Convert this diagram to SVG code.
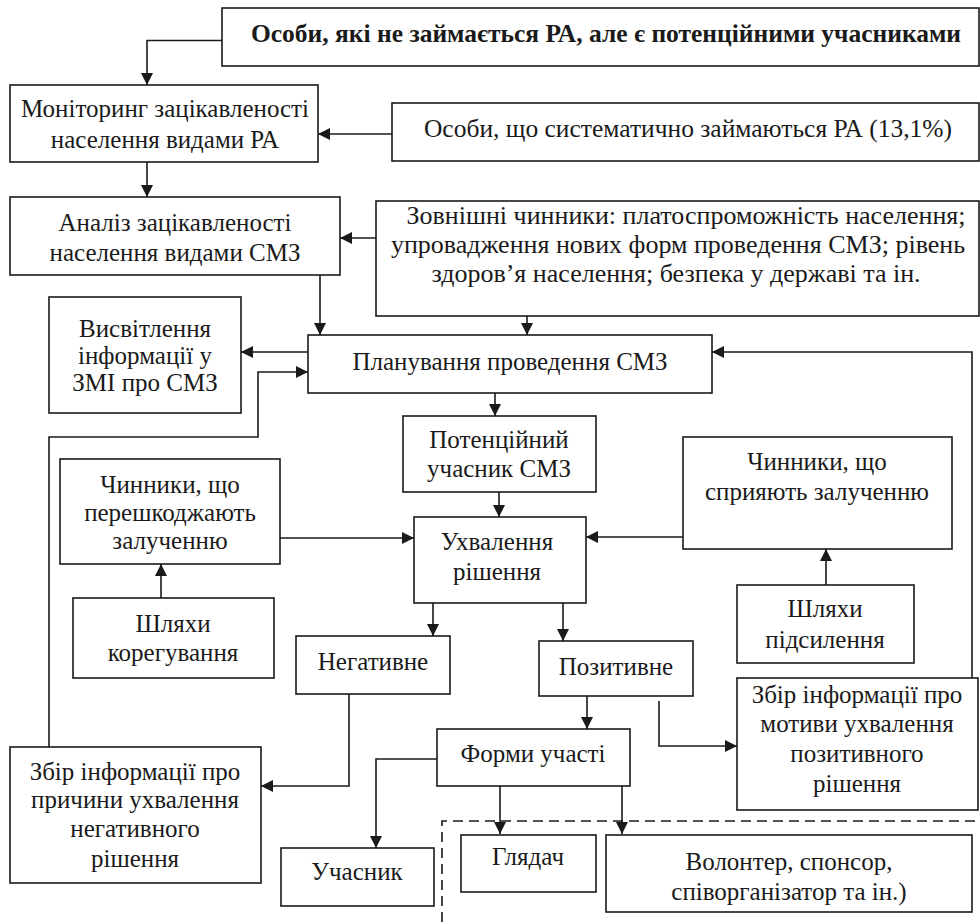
<svg xmlns="http://www.w3.org/2000/svg" width="980" height="922" viewBox="0 0 980 922">
<defs>
<marker id="ah" viewBox="0 0 12 12" refX="12" refY="6" markerWidth="12" markerHeight="12" markerUnits="userSpaceOnUse" orient="auto">
<path d="M0,0 L12,6 L0,12 z" fill="#1a1a1a"/>
</marker>
</defs>
<style>
.b{fill:#fff;stroke:#1a1a1a;stroke-width:1.6}
.c{fill:none;stroke:#1a1a1a;stroke-width:1.6;marker-end:url(#ah)}
.d{fill:none;stroke:#1a1a1a;stroke-width:1.6;stroke-dasharray:10,6}
text{font-family:'Liberation Serif','Times New Roman',serif;font-size:25px;fill:#1a1a1a;text-anchor:middle}
.big{font-size:25.5px}
.ext{font-size:26px}
.bold{font-weight:bold}
</style>
<rect width="980" height="922" fill="#fff"/>
<g id="connectors">
<path class="c" d="M222,40.5 H147 V85"/>
<path class="c" d="M392,134 H318"/>
<path class="c" d="M147,162 V197"/>
<path class="c" d="M376,238 H340"/>
<path class="c" d="M320,275 V335"/>
<path class="c" d="M527,316 V335"/>
<path class="c" d="M308,352 H241"/>
<path class="c" d="M49,747 V437 H258 V372 H308"/>
<path class="c" d="M972,678 V352 H712"/>
<path class="c" d="M495,393 V416"/>
<path class="c" d="M499,492 V517"/>
<path class="c" d="M280,538 H414"/>
<path class="c" d="M161,598 V564"/>
<path class="c" d="M683,537 H586"/>
<path class="c" d="M826,585 V549"/>
<path class="c" d="M433,603 V636"/>
<path class="c" d="M563,603 V641"/>
<path class="c" d="M349,694 V786 H261"/>
<path class="c" d="M587,696 V729"/>
<path class="c" d="M659,701 V746 H737"/>
<path class="c" d="M437,759 H376 V848"/>
<path class="c" d="M500,786 V834"/>
<path class="c" d="M622,786 V834"/>
<path class="d" d="M442,922 V821 H980"/>
</g>
<g id="n1"><rect class="b" x="222" y="8" width="757" height="58"/><text class="big bold" x="606" y="42">Особи, які не займається РА, але є потенційними учасниками</text></g>
<g id="n2"><rect class="b" x="10" y="85" width="308" height="77"/><text x="165" y="117">Моніторинг зацікавленості</text><text x="165" y="148">населення видами РА</text></g>
<g id="n3"><rect class="b" x="392" y="103" width="587" height="58"/><text class="big" x="688" y="137">Особи, що систематично займаються РА (13,1%)</text></g>
<g id="n4"><rect class="b" x="10" y="197" width="330" height="78"/><text x="175" y="231">Аналіз зацікавленості</text><text x="175" y="261">населення видами СМЗ</text></g>
<g id="n5"><rect class="b" x="376" y="201" width="603" height="115"/><text class="ext" x="686" y="224">Зовнішні чинники: платоспроможність населення;</text><text class="ext" x="678" y="253">упровадження нових форм проведення СМЗ; рівень</text><text class="ext" x="676" y="282">здоров’я населення; безпека у державі та ін.</text></g>
<g id="n6"><rect class="b" x="49" y="297" width="192" height="116"/><text x="145" y="337">Висвітлення</text><text x="145" y="364">інформації у</text><text x="145" y="391">ЗМІ про СМЗ</text></g>
<g id="n7"><rect class="b" x="308" y="335" width="404" height="58"/><text x="510" y="370">Планування проведення СМЗ</text></g>
<g id="n8"><rect class="b" x="403" y="416" width="193" height="76"/><text x="499" y="448">Потенційний</text><text x="499" y="477">учасник СМЗ</text></g>
<g id="n9"><rect class="b" x="60" y="459" width="220" height="105"/><text x="170" y="493">Чинники, що</text><text x="170" y="521">перешкоджають</text><text x="170" y="549">залученню</text></g>
<g id="n10"><rect class="b" x="683" y="437" width="269" height="112"/><text x="817" y="470">Чинники, що</text><text x="817" y="500">сприяють залученню</text></g>
<g id="n11"><rect class="b" x="414" y="517" width="172" height="86"/><text x="497" y="550">Ухвалення</text><text x="497" y="580">рішення</text></g>
<g id="n12"><rect class="b" x="73" y="598" width="201" height="80"/><text x="173" y="632">Шляхи</text><text x="173" y="661">корегування</text></g>
<g id="n13"><rect class="b" x="737" y="585" width="177" height="78"/><text x="825" y="617">Шляхи</text><text x="825" y="648">підсилення</text></g>
<g id="n14"><rect class="b" x="296" y="636" width="154" height="58"/><text x="373" y="670">Негативне</text></g>
<g id="n15"><rect class="b" x="539" y="641" width="154" height="55"/><text x="616" y="675">Позитивне</text></g>
<g id="n16"><rect class="b" x="737" y="678" width="241" height="132"/><text x="857" y="703">Збір інформації про</text><text x="857" y="732">мотиви ухвалення</text><text x="857" y="762">позитивного</text><text x="857" y="792">рішення</text></g>
<g id="n17"><rect class="b" x="437" y="729" width="193" height="57"/><text x="533" y="762">Форми участі</text></g>
<g id="n18"><rect class="b" x="10" y="747" width="251" height="136"/><text x="135" y="780">Збір інформації про</text><text x="135" y="808">причини ухвалення</text><text x="135" y="837">негативного</text><text x="135" y="867">рішення</text></g>
<g id="n19"><rect class="b" x="281" y="848" width="153" height="58"/><text x="357" y="880">Учасник</text></g>
<g id="n20"><rect class="b" x="461" y="835" width="135" height="57"/><text x="528" y="865">Глядач</text></g>
<g id="n21"><rect class="b" x="606" y="835" width="366" height="77"/><text x="789" y="870">Волонтер, спонсор,</text><text x="789" y="900">співорганізатор та ін.)</text></g>
</svg>
